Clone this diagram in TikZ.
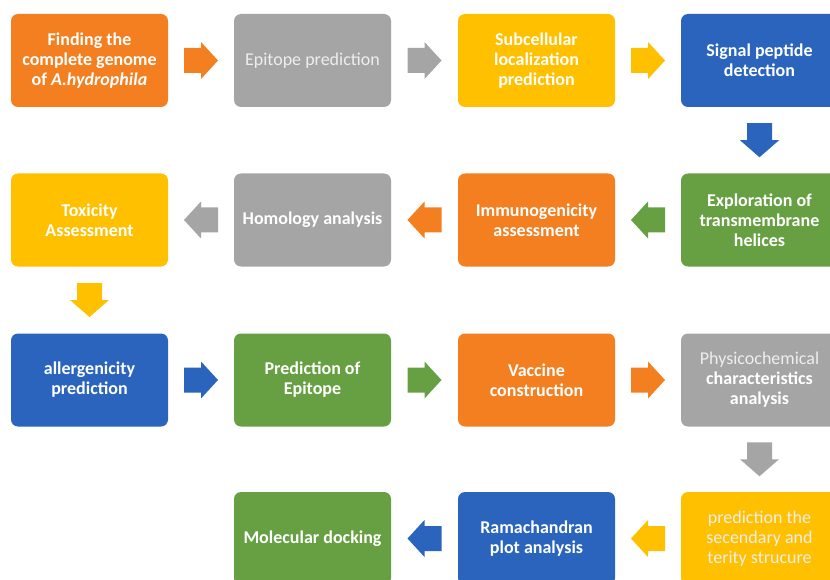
\documentclass[tikz,border=0pt]{standalone}
\usepackage{fontspec}
\setmainfont{Carlito}
\usetikzlibrary{calc}
\definecolor{cOrange}{HTML}{F47F21}
\definecolor{cGray}{HTML}{A5A5A5}
\definecolor{cYellow}{HTML}{FFC000}
\definecolor{cBlue}{HTML}{2A64BD}
\definecolor{cGreen}{HTML}{67A042}
\definecolor{cLight}{HTML}{EEEEEE}
\tikzset{
  box/.style={rectangle, rounded corners=7pt, minimum width=157pt, minimum height=93pt,
    align=center, text=white, font=\fontsize{18}{20}\selectfont\bfseries, inner sep=2pt},
  lbox/.style={box, text=cLight, font=\fontsize{18}{20}\selectfont},
  rarrow/.pic={\fill[pic actions] (-17,-12.5) -- (0,-12.5) -- (0,-18.5) -- (17,0) -- (0,18.5) -- (0,12.5) -- (-17,12.5) -- cycle;},
  larrow/.pic={\fill[pic actions] (17,-12.5) -- (0,-12.5) -- (0,-18.5) -- (-17,0) -- (0,18.5) -- (0,12.5) -- (17,12.5) -- cycle;},
  darrow/.pic={\fill[pic actions] (-12.5,-17) -- (-12.5,0) -- (-19.5,0) -- (0,17) -- (19.5,0) -- (12.5,0) -- (12.5,-17) -- cycle;}
}
\begin{document}
\begin{tikzpicture}[x=1pt,y=-1pt]
\useasboundingbox (0,0) rectangle (830,580);
\fill[white] (0,0) rectangle (830,580);
\clip (0,0) rectangle (830,580);
% row 1
\node[box, fill=cOrange] (b1) at (89.5,60.5) {Finding the\\complete genome\\of \textit{A.hydrophila}};
\node[lbox, fill=cGray] (b2) at (312.5,60.5) {Epitope prediction};
\node[box, fill=cYellow] (b3) at (536.5,60.5) {Subcellular\\localization\\prediction};
\node[box, fill=cBlue] (b4) at (759.5,60.5) {Signal peptide\\detection};
% row 2
\node[box, fill=cGreen] (b5) at (759.5,220) {Exploration of\\transmembrane\\helices};
\node[box, fill=cOrange] (b6) at (536.5,220) {Immunogenicity\\assessment};
\node[box, fill=cGray] (b7) at (312.5,220) {Homology analysis};
\node[box, fill=cYellow] (b8) at (89.5,220) {Toxicity\\Assessment};
% row 3
\node[box, fill=cBlue] (b9) at (89.5,380) {allergenicity\\prediction};
\node[box, fill=cGreen] (b10) at (312.5,380) {Prediction of\\Epitope};
\node[box, fill=cOrange] (b11) at (536.5,380) {Vaccine\\construction};
\node[box, fill=cGray] (b12) at (759.5,380) {\mdseries\color{cLight}Physicochemical\\characteristics\\analysis};
% row 4
\node[lbox, fill=cYellow] (b13) at (759.5,538.5) {prediction the\\secendary and\\terity strucure};
\node[box, fill=cBlue] (b14) at (536.5,538.5) {Ramachandran\\plot analysis};
\node[box, fill=cGreen] (b15) at (312.5,538.5) {Molecular docking};
% arrows
\path ($(b1.east)!.5!(b2.west)$) pic[fill=cOrange] {rarrow};
\path ($(b2.east)!.5!(b3.west)$) pic[fill=cGray] {rarrow};
\path ($(b3.east)!.5!(b4.west)$) pic[fill=cYellow] {rarrow};
\path ($(b4.south)!.5!(b5.north)$) pic[fill=cBlue] {darrow};
\path ($(b5.west)!.5!(b6.east)$) pic[fill=cGreen] {larrow};
\path ($(b6.west)!.5!(b7.east)$) pic[fill=cOrange] {larrow};
\path ($(b7.west)!.5!(b8.east)$) pic[fill=cGray] {larrow};
\path ($(b8.south)!.5!(b9.north)$) pic[fill=cYellow] {darrow};
\path ($(b9.east)!.5!(b10.west)$) pic[fill=cBlue] {rarrow};
\path ($(b10.east)!.5!(b11.west)$) pic[fill=cGreen] {rarrow};
\path ($(b11.east)!.5!(b12.west)$) pic[fill=cOrange] {rarrow};
\path ($(b12.south)!.5!(b13.north)$) pic[fill=cGray] {darrow};
\path ($(b13.west)!.5!(b14.east)$) pic[fill=cYellow] {larrow};
\path ($(b14.west)!.5!(b15.east)$) pic[fill=cBlue] {larrow};
\end{tikzpicture}
\end{document}
